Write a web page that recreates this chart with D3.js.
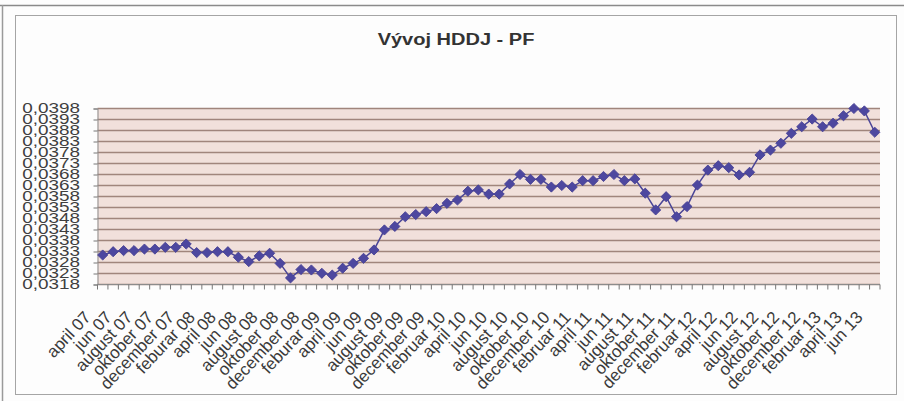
<!DOCTYPE html>
<html>
<head>
<meta charset="utf-8">
<script src="https://cdn.jsdelivr.net/npm/d3@7"></script>
<style>
	body { margin: 0; background: #fdfdfd; }
	svg { display: block; font-family: "Liberation Sans", Arial, sans-serif; }
</style>
</head>
<body>
<div id="chart"></div>
<script>
// Months on the category axis (only every second one gets a label)
const categories = [
	"april 07", "maj 07", "jun 07", "jul 07", "august 07", "september 07", "oktober 07", "november 07", "december 07",
	"januar 08", "feburar 08", "marec 08", "april 08", "maj 08", "jun 08", "jul 08", "august 08", "september 08", "oktober 08", "november 08", "december 08",
	"januar 09", "feburar 09", "marec 09", "april 09", "maj 09", "jun 09", "jul 09", "august 09", "september 09", "oktober 09", "november 09", "december 09",
	"januar 10", "februar 10", "marec 10", "april 10", "maj 10", "jun 10", "jul 10", "august 10", "september 10", "oktober 10", "november 10", "december 10",
	"januar 11", "februar 11", "marec 11", "april 11", "maj 11", "jun 11", "jul 11", "august 11", "september 11", "oktober 11", "november 11", "december 11",
	"januar 12", "februar 12", "marec 12", "april 12", "maj 12", "jun 12", "jul 12", "august 12", "september 12", "oktober 12", "november 12", "december 12",
	"januar 13", "februar 13", "marec 13", "april 13", "maj 13", "jun 13"
];

// HDDJ values
const values = [
	0.03314, 0.03329, 0.03334, 0.03334, 0.03341, 0.03341, 0.03349, 0.03349, 0.03364,
	0.03325, 0.03325, 0.03329, 0.03329, 0.03304, 0.03284, 0.03310, 0.03322, 0.03276, 0.03210, 0.03248, 0.03246,
	0.03231, 0.03223, 0.03254, 0.03276, 0.03299, 0.03337, 0.03428, 0.03444, 0.03488, 0.03498, 0.03511, 0.03525,
	0.03549, 0.03564, 0.03604, 0.03610, 0.03591, 0.03591, 0.03637, 0.03680, 0.03658, 0.03658, 0.03623, 0.03630,
	0.03623, 0.03652, 0.03652, 0.03671, 0.03680, 0.03652, 0.03660, 0.03595, 0.03519, 0.03579, 0.03488, 0.03534,
	0.03632, 0.03700, 0.03720, 0.03711, 0.03678, 0.03690, 0.03769, 0.03791, 0.03822, 0.03867, 0.03897, 0.03932,
	0.03897, 0.03913, 0.03947, 0.03980, 0.03969, 0.03872
];

const yTicks = [0.0318, 0.0323, 0.0328, 0.0333, 0.0338, 0.0343, 0.0348, 0.0353, 0.0358,
	0.0363, 0.0368, 0.0373, 0.0378, 0.0383, 0.0388, 0.0393, 0.0398];

const tickLabels = categories.filter((c, i) => i % 2 === 0);

const width = 904;
const height = 401;
const plot = {left: 97.5, right: 880, top: 108.5, bottom: 284.5};

const svg = d3.select('#chart')
	.append('svg')
	.attr('width', width)
	.attr('height', height);

// frame lines
svg.append('line').attr('x1', 0).attr('x2', width).attr('y1', 5.5).attr('y2', 5.5)
	.attr('stroke', '#8a8a8a').attr('stroke-width', 1.5);
svg.append('line').attr('x1', 2.5).attr('x2', 2.5).attr('y1', 5).attr('y2', height)
	.attr('stroke', '#9a9a9a').attr('stroke-width', 1.5);
svg.append('rect')
	.attr('x', 15.5).attr('y', 15.5).attr('width', 881).attr('height', 379)
	.attr('fill', '#fdfdfd').attr('stroke', '#a5a5a5');

// title
svg.append('text')
	.attr('transform', 'translate(456, 45) scale(1.25, 1)')
	.attr('text-anchor', 'middle')
	.attr('font-size', 16)
	.attr('font-weight', 'bold')
	.attr('fill', '#333')
	.text('Vývoj HDDJ - PF');

const xBand = d3.scaleBand()
	.domain(categories)
	.range([plot.left, plot.right]);

const xScale = (c) => xBand(c) + xBand.bandwidth() / 2;

const yScale = d3.scaleLinear()
	.domain([0.0318, 0.0398])
	.range([plot.bottom, plot.top]);

// plot area background
svg.append('rect')
	.attr('x', plot.left).attr('y', plot.top)
	.attr('width', plot.right - plot.left).attr('height', plot.bottom - plot.top)
	.attr('fill', '#f1e0db');

// gridlines
svg.append('g')
	.selectAll('line')
	.data(yTicks)
	.enter()
		.append('line')
			.attr('x1', plot.left).attr('x2', plot.right)
			.attr('y1', (d) => yScale(d)).attr('y2', (d) => yScale(d))
			.attr('stroke', '#a0857c')
			.attr('stroke-width', 1.5);

// y axis
const yAxis = svg.append('g')
	.attr('transform', `translate(${plot.left}, 0)`)
	.call(d3.axisLeft(yScale)
		.tickValues(yTicks)
		.tickSize(4)
		.tickPadding(9)
		.tickFormat((d) => d.toFixed(4).replace('.', ',')));
yAxis.select('.domain').attr('stroke', '#8c8c8c');
yAxis.selectAll('.tick line').attr('stroke', '#777');
yAxis.selectAll('.tick text')
	.attr('font-size', 14)
	.attr('fill', '#3f3f3f')
	.attr('font-family', '"Liberation Sans", Arial, sans-serif')
	.attr('transform', 'scale(1.35, 1)');

// x axis line and category ticks
svg.append('line')
	.attr('x1', plot.left).attr('x2', plot.right)
	.attr('y1', plot.bottom).attr('y2', plot.bottom)
	.attr('stroke', '#8c8c8c');

svg.append('g')
	.selectAll('line')
	.data(categories.concat(['end']))
	.enter()
		.append('line')
			.attr('x1', (d, i) => i < categories.length ? xBand(d) : plot.right)
			.attr('x2', (d, i) => i < categories.length ? xBand(d) : plot.right)
			.attr('y1', plot.bottom).attr('y2', plot.bottom + 5)
			.attr('stroke', '#777');

// x labels, rotated
svg.append('g')
	.selectAll('text')
	.data(tickLabels)
	.enter()
		.append('text')
			.attr('transform', (d) => `translate(${xScale(d) - 11}, 318) rotate(-47)`)
			.attr('text-anchor', 'end')
			.attr('font-size', 17)
			.attr('fill', '#3a3a3a')
			.text((d) => d);

// series line
const line = d3.line()
	.x((d, i) => xScale(categories[i]))
	.y((d) => yScale(d));

svg.append('path')
	.datum(values)
	.attr('d', line)
	.attr('fill', 'none')
	.attr('stroke', '#4a4597')
	.attr('stroke-width', 1.5);

// diamond markers
svg.append('g')
	.selectAll('path')
	.data(values)
	.enter()
		.append('path')
			.attr('d', d3.symbol().type(d3.symbolSquare).size(52))
			.attr('transform', (d, i) => `translate(${xScale(categories[i])}, ${yScale(d)}) rotate(45)`)
			.attr('fill', '#4d479f')
			.attr('stroke', '#453f93')
			.attr('stroke-width', 0.8);
</script>
</body>
</html>
